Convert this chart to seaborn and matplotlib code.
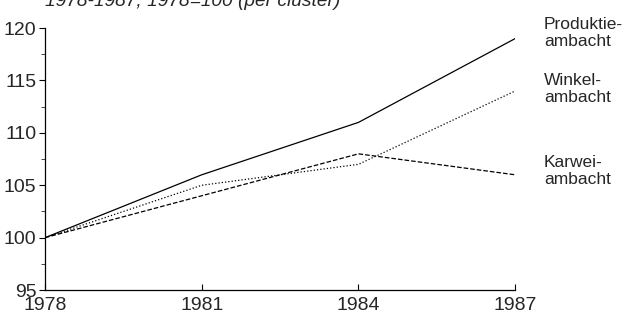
import pandas as pd
import matplotlib.pyplot as plt
import seaborn as sns

years = [1978, 1981, 1984, 1987]
produktie = [100, 106, 111, 119]
winkel = [100, 105, 107, 114]
karwei = [100, 104, 108, 106]
labels = ["Produktie-\nambacht", "Winkel-\nambacht", "Karwei-\nambacht"]

df = pd.DataFrame({
    "jaar": years * 3,
    "index": produktie + winkel + karwei,
    "cluster": [labels[0]] * 4 + [labels[1]] * 4 + [labels[2]] * 4,
})

sns.set_style("ticks")
plt.rcParams["font.family"] = ["Liberation Sans", "DejaVu Sans"]

fig = plt.figure(figsize=(6.33, 3.15), dpi=100)
ax = fig.add_axes([0.071, 0.079, 0.743, 0.832])

styles = {labels[0]: "-", labels[1]: ":", labels[2]: "--"}
for name, grp in df.groupby("cluster", sort=False):
    sns.lineplot(data=grp, x="jaar", y="index", ax=ax, color="black",
                 linewidth=0.9, linestyle=styles[name], legend=False)

ax.set_xlim(1978, 1987)
ax.set_ylim(95, 120)
ax.set_xticks(years)
ax.set_yticks([95, 100, 105, 110, 115, 120])
ax.set_yticks([97.5, 102.5, 107.5, 112.5, 117.5], minor=True)
ax.set_xlabel("")
ax.set_ylabel("")
ax.tick_params(axis="both", labelsize=14, length=4, width=0.8, color="black")
ax.tick_params(axis="y", which="minor", length=3)
ax.tick_params(axis="y", pad=2)
ax.tick_params(axis="x", direction="in", pad=5)
sns.despine(ax=ax)
for s in ["left", "bottom"]:
    ax.spines[s].set_linewidth(0.9)
    ax.spines[s].set_color("black")

# labels at the line ends
label_y = [119.5, 114.2, 106.4]
for lab, yv in zip(labels, label_y):
    ax.text(1987.55, yv, lab, fontsize=12.5, va="center", ha="left", linespacing=1.15)

fig.text(0.071, 0.995, "1978-1987; 1978=100 (per cluster)", fontsize=13.8,
         style="italic", va="center", ha="left")

fig.savefig("out.png", dpi=100)
